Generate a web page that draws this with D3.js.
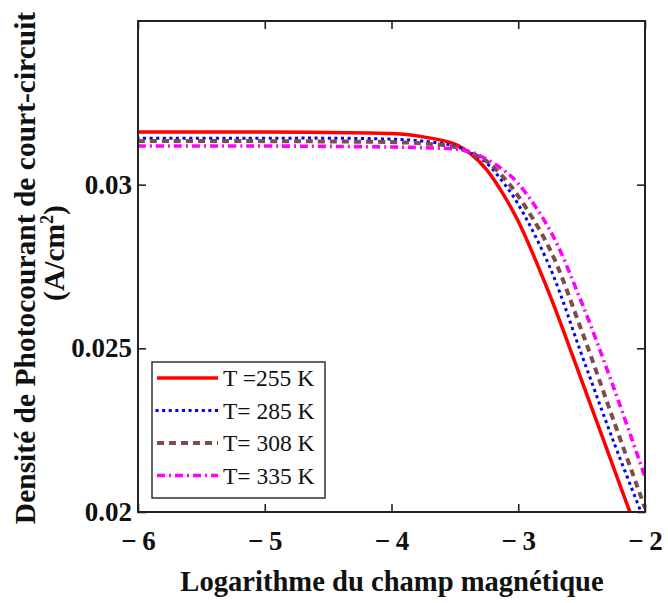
<!DOCTYPE html>
<html>
<head>
<meta charset="utf-8">
<script src="https://cdn.jsdelivr.net/npm/d3@7"></script>
<style>
  body { margin: 0; background: #fff; }
  text { font-family: "Liberation Serif", "Times New Roman", serif; }
</style>
</head>
<body>
<div id="chart"></div>
<script>
// log10(B) samples and short-circuit photocurrent density (A/cm2) per temperature
const logB = [-6, -5, -4.5, -4, -3.75, -3.5, -3.375, -3.25, -3.125, -3, -2.75, -2.5, -2.25, -2];
const j255 = [0.03161, 0.03161, 0.03159, 0.03156, 0.03146, 0.03124, 0.03094, 0.03046, 0.02975, 0.02888, 0.02662, 0.02402, 0.02138, 0.01874];
const j285 = [0.03142, 0.03142, 0.03142, 0.03139, 0.03133, 0.03118, 0.03097, 0.03066, 0.03010, 0.02940, 0.02747, 0.02481, 0.02217, 0.01969];
const j308 = [0.03133, 0.03133, 0.03132, 0.03130, 0.03126, 0.03115, 0.03097, 0.03072, 0.03026, 0.02965, 0.02802, 0.02554, 0.02282, 0.02012];
const j335 = [0.03118, 0.03118, 0.03117, 0.03115, 0.03113, 0.03109, 0.03100, 0.03078, 0.03047, 0.03003, 0.02861, 0.02640, 0.02383, 0.02107];

const seriesNames = ["T =255 K", "T= 285 K", "T= 308 K", "T= 335 K"];
const xTicks = [-6, -5, -4, -3, -2];
const yTicks = [0.02, 0.025, 0.03];

const series = [
  { name: seriesNames[0], values: j255, color: "#ff0000", width: 3.5, dash: null, cap: "butt" },
  { name: seriesNames[1], values: j285, color: "#0000ff", width: 3, dash: "0.1,6.5", cap: "square" },
  { name: seriesNames[2], values: j308, color: "#7f4c4c", width: 4, dash: "7,5", cap: "butt" },
  { name: seriesNames[3], values: j335, color: "#ff00ff", width: 3.6, dash: "8,4,2,4", cap: "butt" }
];

const width = 668, height = 603;
const margin = { top: 21, right: 23, bottom: 91, left: 138 };

const svg = d3.select("#chart").append("svg")
  .attr("width", width)
  .attr("height", height);

const x = d3.scaleLinear().domain([-6, -2]).range([margin.left, width - margin.right]);
const y = d3.scaleLinear().domain([0.02, 0.035]).range([height - margin.bottom, margin.top]);

svg.append("clipPath").attr("id", "plot-clip")
  .append("rect")
  .attr("x", margin.left)
  .attr("y", margin.top)
  .attr("width", x.range()[1] - x.range()[0])
  .attr("height", y.range()[0] - y.range()[1]);

const line = d3.line()
  .x(d => x(d[0]))
  .y(d => y(d[1]))
  .curve(d3.curveCatmullRom.alpha(0.5));

const plot = svg.append("g").attr("clip-path", "url(#plot-clip)");

series.forEach(s => {
  plot.append("path")
    .datum(logB.map((b, i) => [b, s.values[i]]))
    .attr("fill", "none")
    .attr("stroke", s.color)
    .attr("stroke-width", s.width)
    .attr("stroke-linecap", s.cap)
    .attr("stroke-dasharray", s.dash)
    .attr("d", line);
});

// axes (ticks point inward, on all four sides)
const fmtX = d => d < 0 ? "\u2212\u2009" + Math.abs(d) : String(d);
const tickLen = 8;

svg.append("g")
  .attr("transform", `translate(0,${y.range()[0]})`)
  .call(d3.axisBottom(x).tickValues(xTicks).tickSizeInner(-tickLen).tickSizeOuter(0).tickPadding(19).tickFormat(fmtX));
svg.append("g")
  .attr("transform", `translate(0,${y.range()[1]})`)
  .call(d3.axisTop(x).tickValues(xTicks).tickSizeInner(-tickLen).tickSizeOuter(0).tickFormat(""));
svg.append("g")
  .attr("transform", `translate(${x.range()[0]},0)`)
  .call(d3.axisLeft(y).tickValues(yTicks).tickSizeInner(-tickLen).tickSizeOuter(0).tickPadding(6).tickFormat(d => String(+d.toFixed(3))));
svg.append("g")
  .attr("transform", `translate(${x.range()[1]},0)`)
  .call(d3.axisRight(y).tickValues(yTicks).tickSizeInner(-tickLen).tickSizeOuter(0).tickFormat(""));

svg.selectAll(".domain").remove();
svg.selectAll(".tick line").attr("stroke", "#222").attr("stroke-width", 1.6);
svg.selectAll(".tick text")
  .attr("font-family", "Liberation Serif, serif")
  .attr("font-size", 27)
  .attr("font-weight", "bold")
  .attr("fill", "#111");

// frame
svg.append("rect")
  .attr("x", x.range()[0])
  .attr("y", y.range()[1])
  .attr("width", x.range()[1] - x.range()[0])
  .attr("height", y.range()[0] - y.range()[1])
  .attr("fill", "none")
  .attr("stroke", "#222")
  .attr("stroke-width", 2);

// axis titles
svg.append("text")
  .attr("x", 392)
  .attr("y", 591)
  .attr("text-anchor", "middle")
  .attr("font-size", 28.6)
  .attr("font-weight", "bold")
  .attr("fill", "#111")
  .text("Logarithme du champ magnétique");

const yTitle = svg.append("g").attr("transform", "rotate(-90)");
yTitle.append("text")
  .attr("x", -268)
  .attr("y", 35)
  .attr("text-anchor", "middle")
  .attr("font-size", 29.5)
  .attr("font-weight", "bold")
  .attr("fill", "#111")
  .text("Densité de Photocourant de court-circuit");
const unit = yTitle.append("text")
  .attr("x", -253)
  .attr("y", 64)
  .attr("text-anchor", "middle")
  .attr("font-size", 29.5)
  .attr("font-weight", "bold")
  .attr("fill", "#111");
unit.append("tspan").text("(A/cm");
unit.append("tspan").attr("dy", -11).attr("font-size", 18).text("2");
unit.append("tspan").attr("dy", 11).text(")");

// legend
const legend = svg.append("g");
legend.append("rect")
  .attr("x", 152).attr("y", 362)
  .attr("width", 173).attr("height", 136)
  .attr("fill", "#fff")
  .attr("stroke", "#333")
  .attr("stroke-width", 1.5);

series.forEach((s, i) => {
  const ly = 378 + i * 32.5;
  legend.append("line")
    .attr("x1", 157).attr("x2", 218)
    .attr("y1", ly).attr("y2", ly)
    .attr("stroke", s.color)
    .attr("stroke-width", s.width)
    .attr("stroke-linecap", s.cap)
    .attr("stroke-dasharray", s.dash);
  legend.append("text")
    .attr("x", 223)
    .attr("y", ly + 8)
    .attr("font-size", 23.5)
    .attr("fill", "#111")
    .text(s.name);
});
</script>
</body>
</html>
